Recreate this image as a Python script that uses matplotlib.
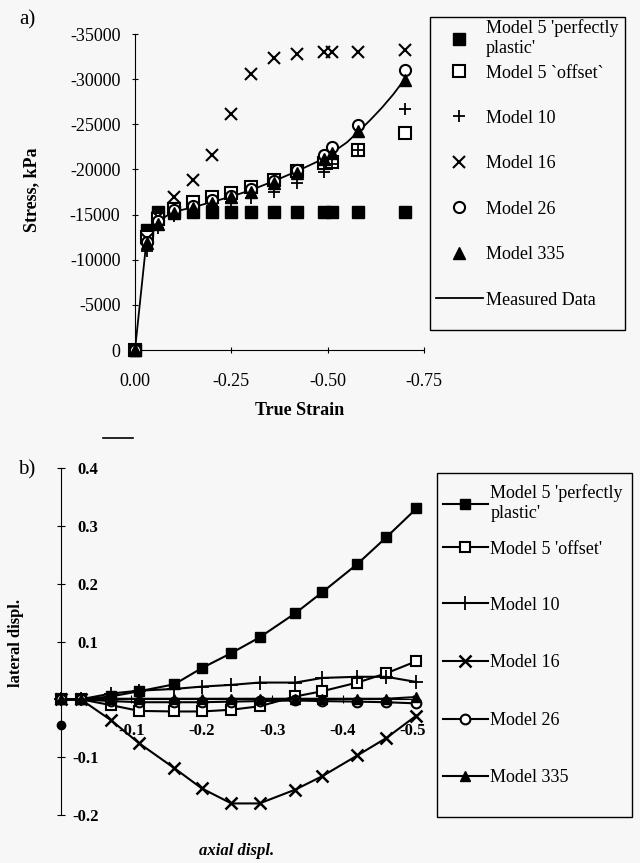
import matplotlib
matplotlib.use("Agg")
import matplotlib.pyplot as plt
from matplotlib.lines import Line2D
from matplotlib.patches import Rectangle

plt.rcParams['font.family'] = ['Liberation Serif', 'DejaVu Serif']
plt.rcParams['axes.unicode_minus'] = False

# ---- data, plot a (stress vs true strain) ----
strain = [0, -0.03, -0.06, -0.10, -0.15, -0.20, -0.25, -0.30, -0.36, -0.42, -0.49, -0.51, -0.58, -0.70]
m5_pp = [0, -13300, -15300, -15300, -15300, -15300, -15300, -15300, -15300, -15300, -15300, -15300, -15300, -15300]
m5_off = [0, -12500, -14500, -15600, -16400, -16950, -17400, -18050, -18800, -19800, -20700, -20800, -22150, -24000]
m10 = [0, -11000, -13500, -14800, -15400, -15900, -16400, -16800, -17500, -18500, -19700, -20600, -22100, -26700]
m16 = [0, -12300, -14700, -16900, -18800, -21600, -26100, -30600, -32300, -32800, -33000, -33000, -33000, -33200]
m26 = [0, -12000, -14300, -15500, -15900, -16600, -17100, -17800, -18700, -19900, -21600, -22500, -24900, -31000]
m335 = [0, -11800, -14000, -15200, -15700, -16300, -16900, -17500, -18500, -19600, -21200, -21800, -24300, -29900]
meas_strain = [0, -0.028, -0.06, -0.10, -0.15, -0.20, -0.25, -0.30, -0.36, -0.42, -0.49, -0.51, -0.55,
               -0.58, -0.61, -0.64, -0.67, -0.70]
meas_stress = [0, -11400, -14300, -15300, -15800, -16400, -17000, -17700, -18700, -19800, -21200, -21800,
               -23000, -24200, -25450, -26800, -28300, -30000]

# ---- data, plot b (lateral vs axial displacement) ----
axial = [0, -0.028, -0.071, -0.111, -0.161, -0.200, -0.242, -0.282, -0.333, -0.371, -0.421, -0.462, -0.505]
b_pp = [0, 0, 0.005, 0.014, 0.026, 0.054, 0.080, 0.107, 0.149, 0.185, 0.234, 0.280, 0.330]
b_off = [0, 0, -0.010, -0.020, -0.021, -0.021, -0.018, -0.012, 0.005, 0.014, 0.029, 0.045, 0.066]
b_m10 = [0, 0, 0.010, 0.015, 0.018, 0.022, 0.025, 0.029, 0.029, 0.037, 0.039, 0.039, 0.030]
b_m16 = [0, 0, -0.036, -0.076, -0.119, -0.154, -0.180, -0.180, -0.156, -0.133, -0.097, -0.067, -0.028]
b_m26 = [0, 0, -0.003, -0.005, -0.005, -0.005, -0.004, -0.003, -0.002, -0.003, -0.004, -0.005, -0.007]
b_m335 = [0, 0, 0.001, 0.001, 0.001, 0.001, 0.001, 0.001, 0.001, 0.001, 0.001, 0.001, 0.004]
stray_x = [0]
stray_y = [-0.045]

labels_a = ["Model 5 'perfectly\nplastic'", "Model 5 `offset`", "Model 10", "Model 16",
            "Model 26", "Model 335", "Measured Data"]
labels_b = ["Model 5 'perfectly\nplastic'", "Model 5 'offset'", "Model 10", "Model 16",
            "Model 26", "Model 335"]

bg = '#f7f7f7'
W, H = 640, 863
fig = plt.figure(figsize=(6.4, 8.63), dpi=100, facecolor=bg)


def fx(px):
    return px / W


def fy(py):
    return 1 - py / H


def add_legend(handles, labels, x, y, spacing, hlen, tpad):
    fig.legend(handles, labels, loc='upper left', bbox_to_anchor=(fx(x), fy(y)),
               frameon=False, fontsize=13, handlelength=hlen, handletextpad=tpad,
               labelspacing=spacing, borderpad=0.2, borderaxespad=0, numpoints=1)


# ================= plot a =================
ax1 = fig.add_axes([fx(135), fy(350), fx(424) - fx(135), fy(34) - fy(350)])
ax1.set_facecolor(bg)
ms = 8
h_meas, = ax1.plot(meas_strain, meas_stress, color='black', lw=1.3, zorder=2)
h1, = ax1.plot(strain, m5_pp, ls='none', marker='s', ms=ms, color='black', clip_on=False, zorder=3)
h2, = ax1.plot(strain, m5_off, ls='none', marker='s', ms=ms, mfc='white', mec='black', mew=1.5, clip_on=False, zorder=3)
h3, = ax1.plot(strain, m10, ls='none', marker='+', ms=ms + 1, color='black', mew=1.3, clip_on=False, zorder=4)
h4, = ax1.plot(strain, m16, ls='none', marker='x', ms=ms, color='black', mew=1.5, clip_on=False, zorder=4)
h5, = ax1.plot(strain, m26, ls='none', marker='o', ms=ms, mfc='white', mec='black', mew=1.5, clip_on=False, zorder=4)
h6, = ax1.plot(strain, m335, ls='none', marker='^', ms=ms, color='black', clip_on=False, zorder=4)

ax1.set_xlim(0, -0.75)
ax1.set_ylim(0, -35000)
ax1.set_xticks([0, -0.25, -0.5, -0.75])
ax1.set_xticklabels(['0.00', '-0.25', '-0.50', '-0.75'])
ax1.set_yticks(range(0, -35001, -5000))
ax1.spines['top'].set_visible(False)
ax1.spines['right'].set_visible(False)
ax1.tick_params(axis='both', direction='inout', length=5, width=0.8, labelsize=13)
ax1.tick_params(axis='x', pad=14)
ax1.tick_params(axis='y', pad=8)

fig.text(fx(27), fy(20), 'a)', fontsize=15, ha='center', va='center')
fig.text(fx(32), fy(190), 'Stress, kPa', fontsize=13, fontweight='bold', rotation=90,
         ha='center', va='center')
fig.text(fx(300), fy(410), 'True Strain', fontsize=13, fontweight='bold', ha='center', va='center')

fig.add_artist(Rectangle((fx(430), fy(330)), fx(625) - fx(430), fy(17) - fy(330),
                         transform=fig.transFigure, fill=False, edgecolor='black', lw=1))
add_legend([h1, h2], labels_a[:2], 432, 16, 0.42, 2.6, 0.2)
add_legend([h3, h4, h5, h6, h_meas], labels_a[2:], 432, 106, 1.58, 2.6, 0.2)

# ================= plot b =================
ax2 = fig.add_axes([fx(61), fy(815), fx(420) - fx(61), fy(468) - fy(815)])
ax2.set_facecolor(bg)
lw = 1.5
g1, = ax2.plot(axial, b_pp, color='black', lw=lw, marker='s', ms=7, clip_on=False, zorder=3)
g2, = ax2.plot(axial, b_off, color='black', lw=lw, marker='s', ms=7, mfc='white', mew=1.5, clip_on=False, zorder=3)
g3, = ax2.plot(axial, b_m10, color='black', lw=lw, marker='+', ms=10, mew=1.3, clip_on=False, zorder=3)
g4, = ax2.plot(axial, b_m16, color='black', lw=lw, marker='x', ms=9, mew=1.8, clip_on=False, zorder=3)
g5, = ax2.plot(axial, b_m26, color='black', lw=lw, marker='o', ms=7, mfc='white', mew=1.5, clip_on=False, zorder=3)
g6, = ax2.plot(axial, b_m335, color='black', lw=lw, marker='^', ms=7, clip_on=False, zorder=3)
ax2.plot(stray_x, stray_y, ls='none', marker='o', ms=6, color='black', clip_on=False)

ax2.set_xlim(0, -0.51)
ax2.set_ylim(-0.2, 0.4)
ax2.spines['top'].set_visible(False)
ax2.spines['left'].set_visible(False)
ax2.spines['bottom'].set_position(('data', 0))
ax2.spines['right'].set_position(('data', 0))
ax2.yaxis.tick_right()
ax2.set_xticks([-0.1, -0.2, -0.3, -0.4, -0.5])
ax2.set_xticklabels(['-0.1', '-0.2', '-0.3', '-0.4', '-0.5'])
ax2.set_yticks([-0.2, -0.1, 0, 0.1, 0.2, 0.3, 0.4])
ax2.set_yticklabels(['-0.2', '-0.1', '', '0.1', '0.2', '0.3', '0.4'])
ax2.tick_params(axis='both', direction='inout', length=6, width=0.8, labelsize=12)
ax2.tick_params(axis='x', pad=14)
ax2.tick_params(axis='y', pad=24)
for t in ax2.get_yticklabels() + ax2.get_xticklabels():
    t.set_fontweight('bold')
for t in ax2.get_yticklabels():
    t.set_ha('right')

fig.text(fx(27), fy(470), 'b)', fontsize=15, ha='center', va='center')
fig.text(fx(16), fy(643), 'lateral displ.', fontsize=12, fontweight='bold', rotation=90,
         ha='center', va='center')
fig.text(fx(237), fy(851), 'axial displ.', fontsize=12, fontweight='bold', style='italic',
         ha='center', va='center')
fig.add_artist(Line2D([fx(103), fx(133)], [fy(438), fy(438)], color='black', lw=1.2))

fig.add_artist(Rectangle((fx(437), fy(817)), fx(632) - fx(437), fy(473) - fy(817),
                         transform=fig.transFigure, fill=False, edgecolor='black', lw=1))
add_legend([g1, g2], labels_b[:2], 439, 481, 1.02, 2.5, 0.15)
add_legend([g3, g4, g5, g6], labels_b[2:], 439, 593, 2.25, 2.5, 0.15)

fig.savefig('out.png', dpi=100, facecolor=bg)
